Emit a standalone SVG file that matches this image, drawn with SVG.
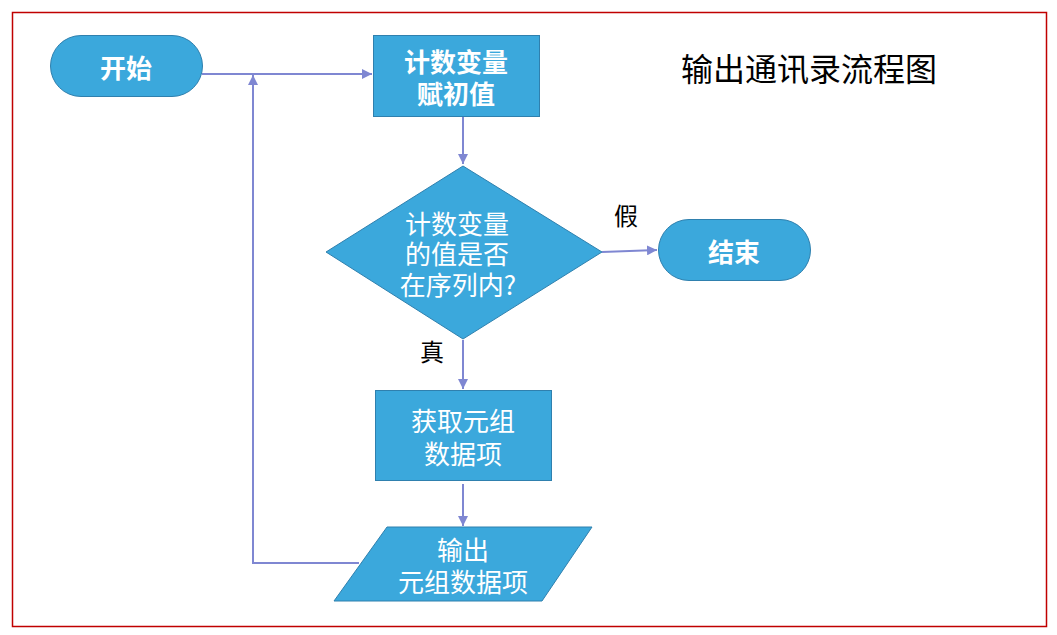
<svg xmlns="http://www.w3.org/2000/svg" width="1057" height="635" viewBox="0 0 1057 635">
<defs>
<style>
.shape{fill:#3BA8DC;stroke:#2F80AE;stroke-width:1}
.t{font-family:"Noto Sans CJK SC","Noto Sans",sans-serif;fill:#fff;font-size:26px;text-anchor:middle;dominant-baseline:central}
.b{font-weight:bold}
.lbl{font-family:"Noto Sans CJK SC","Noto Sans",sans-serif;fill:#000;font-size:24px;text-anchor:middle;dominant-baseline:central}
.c{fill:none;stroke:#7F87D2;stroke-width:2}
</style>
<marker id="ah" viewBox="0 0 10 10" refX="10" refY="5" markerWidth="5" markerHeight="5" orient="auto" markerUnits="strokeWidth">
<path d="M0,0 L10,5 L0,10 z" fill="#7F87D2"/>
</marker>
</defs>
<rect x="0" y="0" width="1057" height="635" fill="#fff"/>
<rect x="12.5" y="12.5" width="1034" height="614" fill="none" stroke="#C00000" stroke-width="1.5"/>
<g id="connectors">
<path class="c" d="M202,74 H372" marker-end="url(#ah)"/>
<path class="c" d="M359,563 H253 V75" marker-end="url(#ah)"/>
<path class="c" d="M463,117 V164" marker-end="url(#ah)"/>
<path class="c" d="M602,252 L657,250" marker-end="url(#ah)"/>
<path class="c" d="M463,340 V389" marker-end="url(#ah)"/>
<path class="c" d="M463,484 V526" marker-end="url(#ah)"/>
</g>
<g id="start">
<rect class="shape" x="50.5" y="35.5" width="152" height="61" rx="30.5"/>
<text class="t b" x="126" y="66">开始</text>
</g>
<g id="init">
<rect class="shape" x="373.5" y="35.5" width="166" height="81"/>
<text class="t b" x="456" y="60">计数变量<tspan x="456" dy="32">赋初值</tspan></text>
</g>
<g id="decision">
<polygon class="shape" points="463,166 602,252 463,339 326,252"/>
<text class="t" x="457" y="222">计数变量<tspan x="457" dy="30">的值是否</tspan><tspan x="458" dy="31">在序列内?</tspan></text>
</g>
<g id="end">
<rect class="shape" x="658.5" y="219.5" width="152" height="61" rx="30.5"/>
<text class="t b" x="734" y="250">结束</text>
</g>
<g id="get">
<rect class="shape" x="375.5" y="390.5" width="176" height="90"/>
<text class="t" x="463" y="419">获取元组<tspan x="463" dy="33">数据项</tspan></text>
</g>
<g id="output">
<polygon class="shape" points="387,527 592,527 542,601 334,601"/>
<text class="t" x="463" y="548">输出<tspan x="463" dy="32">元组数据项</tspan></text>
</g>
<g id="labels">
<text class="lbl" x="626" y="214">假</text>
<text class="lbl" x="432" y="350">真</text>
<text class="lbl" x="809" y="67" style="font-size:32px">输出通讯录流程图</text>
</g>
</svg>
